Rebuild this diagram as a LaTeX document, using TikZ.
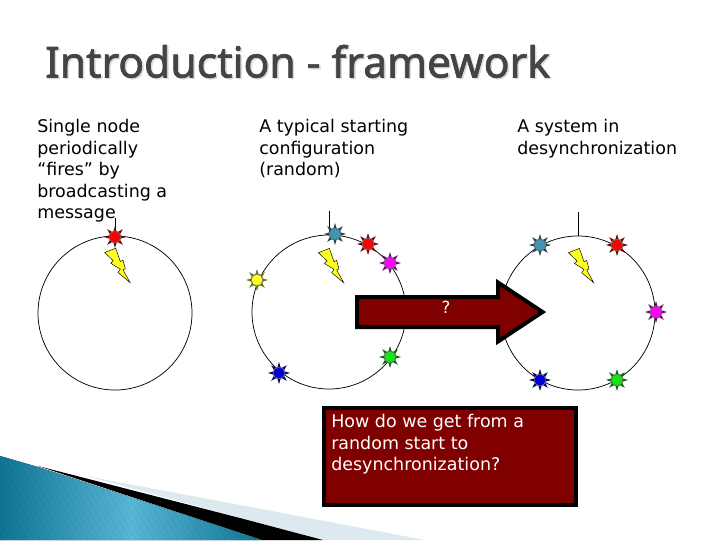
\documentclass[tikz,border=0pt]{standalone}
\usepackage{fontspec}
\setmainfont{DejaVu Sans}
\newfontfamily\headfont[FakeBold=1.6]{Noto Sans}
\usetikzlibrary{shapes.geometric}
\definecolor{maroonfill}{HTML}{800000}
\definecolor{titlegray}{HTML}{444444}
\definecolor{tealnode}{HTML}{3F96B4}
\definecolor{tealdark}{HTML}{0F7592}
\definecolor{teallight}{HTML}{58B6D6}
\definecolor{paleband}{HTML}{DCEAF0}
\definecolor{nodered}{RGB}{255,0,0}
\definecolor{nodemagenta}{RGB}{255,0,255}
\definecolor{nodeyellow}{RGB}{255,255,30}
\definecolor{nodeblue}{RGB}{0,0,220}
\definecolor{nodegreen}{RGB}{20,230,20}
\tikzset{
  x=0.75pt,y=-0.75pt,
  body/.style={anchor=north west,inner sep=0pt,align=left,font=\fontsize{13.1}{16.2}\selectfont,text=black},
  whitebody/.style={body,text=white},
  ring/.style={draw=black,line width=0.55pt},
  tick/.style={draw=black,line width=0.55pt},
  bolt/.style={draw=black,line width=0.35pt,fill=nodeyellow,line join=miter},
  redbox/.style={draw=black,line width=3pt,fill=maroonfill,line join=miter,miter limit=10},
  headline/.style={anchor=base west,inner sep=0pt,font=\fontsize{32}{36}\headfont\selectfont},
}
\newcommand{\flash}[2]{\filldraw[bolt,shift={(#1,#2)}] (-25.3,-30)--(-14.3,-34.3)--(-9.7,-21)--(-7,-22.3)--(-4.7,-13.7)--(-7,-12.7)--(0,0)--(-12,-10)--(-9.7,-13.3)--(-19.3,-19.3)--(-16.7,-21.7)--cycle;}
\newcommand{\burst}[3]{%
  \fill[#3!45!black,shift={(#1,#2)}] (0:11)
    \foreach \a in {0,45,...,315}{ -- (\a+22.5:5) -- (\a+45:11)} -- cycle;
  \fill[black!60,shift={(#1,#2)}] (0,0) circle (6.2);
  \fill[#3,shift={(#1,#2)}] (0,0) circle (5.4);
}
\begin{document}
\begin{tikzpicture}
\useasboundingbox (0,0) rectangle (720,540);
\fill[white] (0,0) rectangle (720,540);
% corner decoration
\fill[paleband] (86,476) -- (240,505) -- (425,540) -- (323,540) -- cycle;
\fill[black] (38,466) -- (240,518) -- (323,540) -- (262,540) -- cycle;
\fill[left color=tealdark,right color=tealdark,middle color=teallight] (0,456) -- (38,467) -- (262,540) -- (0,540) -- cycle;
\begin{scope}
  \clip (0,456) -- (38,467) -- (262,540) -- (0,540) -- cycle;
  \foreach \s in {-60,-54,...,260}
    \draw[black,opacity=0.06,line width=0.5pt] (\s,450) -- (\s+52,540);
\end{scope}
% title
\node[headline,text=black!14] at (46.5,78.8) {Introduction - framework};
\node[headline,text=titlegray] (title) at (45,77.5) {Introduction - framework};
% captions
\node[body] (capa) at (37,119) {Single node\\periodically\\“fires” by\\broadcasting a\\message};
\node[body] (capb) at (259,119) {A typical starting\\configuration\\(random)};
\node[body] (capc) at (517,119) {A system in\\desynchronization};
% rings
\draw[ring] (115,313) circle (77);
\draw[ring] (329,312) circle (77);
\draw[ring] (578,313) circle (77);
\draw[tick] (115,218) -- (115,236);
\draw[tick] (329,211) -- (329,236);
\draw[tick] (578,212) -- (578,236);
% bolts
\flash{130}{282.5}
\flash{343.7}{282.7}
\flash{593.7}{282.7}
% bursts
\burst{115}{237}{nodered}
\burst{335}{234}{tealnode}
\burst{368}{244}{nodered}
\burst{390}{263}{nodemagenta}
\burst{257}{280}{nodeyellow}
\burst{279}{373}{nodeblue}
\burst{390}{357}{nodegreen}
\burst{540}{245}{tealnode}
\burst{617}{245}{nodered}
\burst{656}{312}{nodemagenta}
\burst{617}{380}{nodegreen}
\burst{540}{380}{nodeblue}
% arrow
\draw[redbox] (357,297) -- (498,297) -- (498,282.5) -- (542.5,312) -- (498,341.5) -- (498,327) -- (357,327) -- cycle;
\node[inner sep=0pt,text=white,font=\fontsize{12.5}{14}\selectfont] (q) at (446,307) {?};
% box
\draw[redbox] (324,408) rectangle (576,505);
\node[whitebody] (ask) at (331,414) {How do we get from a\\random start to\\desynchronization?};
\end{tikzpicture}
\end{document}
